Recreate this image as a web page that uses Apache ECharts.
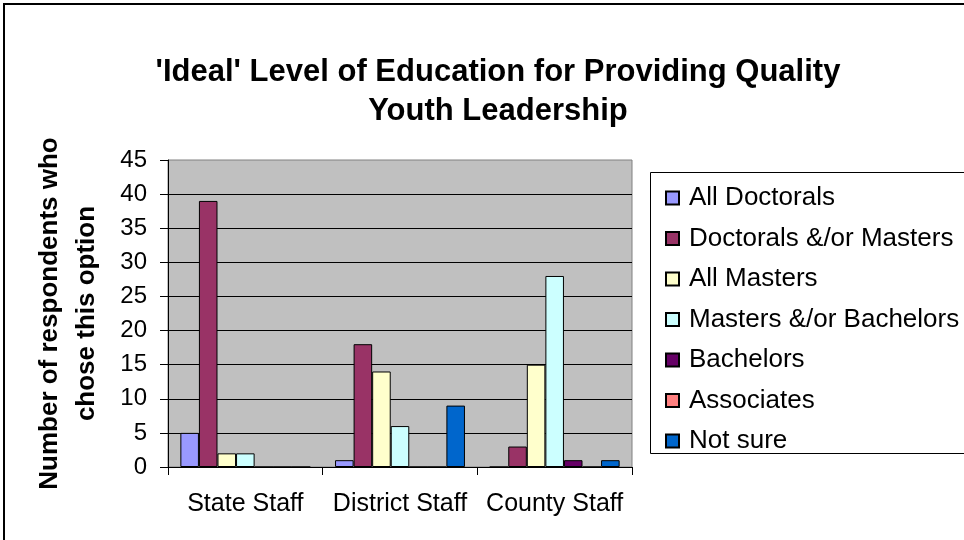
<!DOCTYPE html>
<html>
<head>
<meta charset="utf-8">
<script src="https://cdn.jsdelivr.net/npm/echarts@6/dist/echarts.min.js"></script>
<style>html,body{margin:0;padding:0;background:#fff}#c{width:964px;height:540px}</style>
</head>
<body>
<div id="c"></div>
<script>
const categories = ['State Staff', 'District Staff', 'County Staff'];
const seriesNames = ['All Doctorals', 'Doctorals &/or Masters', 'All Masters', 'Masters &/or Bachelors', 'Bachelors', 'Associates', 'Not sure'];
const allDoctorals = [5, 1, 0];
const doctoralsOrMasters = [39, 18, 3];
const allMasters = [2, 14, 15];
const mastersOrBachelors = [2, 6, 28];
const bachelors = [0, 0, 1];
const associates = [0, 0, 0];
const notSure = [0, 9, 1];
const colors = ['#9999FF', '#993366', '#FFFFCC', '#CCFFFF', '#660066', '#FF8080', '#0066CC'];
const values = [allDoctorals, doctoralsOrMasters, allMasters, mastersOrBachelors, bachelors, associates, notSure];

const font = 'Liberation Sans, Arial, sans-serif';
const chart = echarts.init(document.getElementById('c'), null, {renderer: 'canvas'});
chart.setOption({
  animation: false,
  backgroundColor: '#ffffff',
  textStyle: {fontFamily: font},
  title: {
    text: "'Ideal' Level of Education for Providing Quality\nYouth Leadership",
    left: 493, top: 48, textAlign: 'center',
    textStyle: {fontFamily: font, fontSize: 31, fontWeight: 'bold', color: '#000', lineHeight: 39}
  },
  legend: {
    orient: 'vertical', left: 660, top: 180,
    itemWidth: 13, itemHeight: 13, itemGap: 14.5,
    icon: 'rect',
    textStyle: {fontFamily: font, fontSize: 26, color: '#000', lineHeight: 26, padding: [0, 0, 0, 5]},
    data: seriesNames
  },
  graphic: [
    {type: 'rect', shape: {x: 4, y: 4, width: 1100, height: 700}, style: {fill: 'none', stroke: '#000', lineWidth: 2}, silent: true, z: -10},
    {type: 'rect', shape: {x: 650.5, y: 172.5, width: 400, height: 281}, style: {fill: '#fff', stroke: '#000', lineWidth: 1}, silent: true, z: -5}
  ],
  grid: {left: 168, top: 160, width: 464, height: 307, show: true, backgroundColor: '#C0C0C0', borderColor: '#808080', borderWidth: 1},
  xAxis: {
    type: 'category', data: categories,
    axisLine: {lineStyle: {color: '#000', width: 1}},
    axisTick: {show: true, length: 8, lineStyle: {color: '#000'}},
    axisLabel: {fontFamily: font, fontSize: 25, color: '#000', margin: 25, lineHeight: 25, interval: 0, hideOverlap: false}
  },
  yAxis: {
    type: 'value', min: 0, max: 45, interval: 5,
    name: 'Number of respondents who\nchose this option',
    nameLocation: 'middle', nameRotate: 90, nameGap: 63,
    nameTextStyle: {fontFamily: font, fontSize: 26, fontWeight: 'bold', color: '#000', lineHeight: 37},
    axisLine: {show: true, lineStyle: {color: '#000', width: 1}},
    axisTick: {show: true, length: 8, lineStyle: {color: '#000'}},
    axisLabel: {fontFamily: font, fontSize: 24, color: '#000', margin: 21},
    splitLine: {show: true, showMaxLine: false, lineStyle: {color: '#000', width: 1}}
  },
  series: seriesNames.map((n, i) => ({
    name: n, type: 'bar', data: values[i],
    barGap: '0%', barCategoryGap: '16%',
    itemStyle: {color: colors[i], borderColor: '#000', borderWidth: 1}
  }))
});
</script>
</body>
</html>
